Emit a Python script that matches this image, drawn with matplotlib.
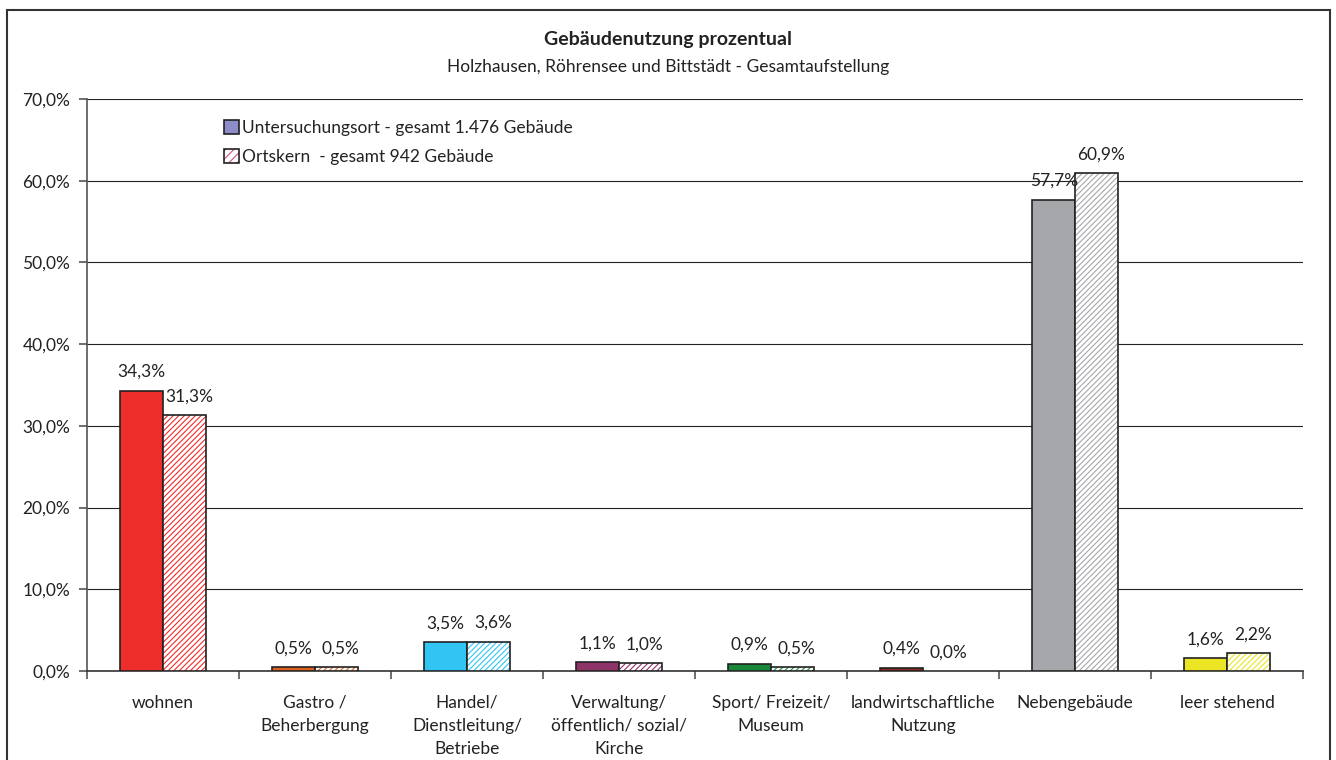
import matplotlib.pyplot as plt
import matplotlib as mpl
from matplotlib.patches import Rectangle, Patch
from matplotlib.legend_handler import HandlerTuple
import numpy as np

plt.rcParams['font.family'] = ['Lato', 'DejaVu Sans']
mpl.rcParams['hatch.linewidth'] = 0.8

categories = ['wohnen', 'Gastro /\nBeherbergung', 'Handel/\nDienstleitung/\nBetriebe',
              'Verwaltung/\nöffentlich/ sozial/\nKirche', 'Sport/ Freizeit/\nMuseum',
              'landwirtschaftliche\nNutzung', 'Nebengebäude', 'leer stehend']
gesamt = [34.3, 0.5, 3.5, 1.1, 0.9, 0.4, 57.7, 1.6]
ortskern = [31.3, 0.5, 3.6, 1.0, 0.5, 0.0, 60.9, 2.2]
colors = ['#EE2E2B', '#E0601E', '#31C5F4', '#8E3468', '#1A8A3A', '#8B2E1E', '#A6A7AB', '#EBE524']
yticks = [0, 10, 20, 30, 40, 50, 60, 70]

fig = plt.figure(figsize=(13.36, 7.60), dpi=100)
ax = fig.add_axes([87 / 1336, 1 - 671 / 760, (1303 - 87) / 1336, (671 - 99) / 760])

x = np.arange(len(categories))
w = 0.28
ax.bar(x - w / 2, gesamt, w, color=colors, edgecolor='#222222', linewidth=1.2, zorder=3)
for xi, v, c in zip(x, ortskern, colors):
    if v > 0:
        ax.bar(xi + w / 2, v, w, color='white', edgecolor=c, hatch='//////', linewidth=0, zorder=3)
        ax.bar(xi + w / 2, v, w, fill=False, edgecolor='#222222', linewidth=1.2, zorder=4)

fs = 12.5
for xi, v in zip(x, gesamt):
    ax.text(xi - w / 2, v + 1.3, f'{v:.1f}%'.replace('.', ','), ha='center', va='bottom',
            fontsize=fs, color='#222222')
for xi, v in zip(x, ortskern):
    ax.text(xi + w / 2 + 0.03, v + 1.3, f'{v:.1f}%'.replace('.', ','), ha='center', va='bottom',
            fontsize=fs, color='#222222')

ax.set_xlim(-0.5, len(categories) - 0.5)
ax.set_ylim(0, 70)
ax.set_yticks(yticks)
ax.set_yticklabels([f'{t:.1f}%'.replace('.', ',') for t in yticks], fontsize=fs, color='#222222')
ax.yaxis.grid(True, color='#222222', linewidth=0.8, zorder=0)
ax.tick_params(axis='y', length=6, color='#555555', width=1.2, pad=6)

ax.set_xticks(np.arange(len(categories) + 1) - 0.5, minor=False)
ax.set_xticklabels([])
ax.set_xticks(x, minor=True)
ax.set_xticklabels(categories, minor=True, fontsize=fs, color='#222222', linespacing=1.55)
ax.tick_params(axis='x', which='major', length=6, color='#555555', width=1.2)
ax.tick_params(axis='x', which='minor', length=0, pad=17)

for s in ['top', 'right']:
    ax.spines[s].set_visible(False)
ax.spines['left'].set_color('#555555')
ax.spines['left'].set_linewidth(1.2)
ax.spines['bottom'].set_color('#333333')
ax.spines['bottom'].set_linewidth(1.2)

fig.text(0.5, 1 - 40 / 760, 'Gebäudenutzung prozentual', ha='center', va='center',
         fontsize=14, fontweight='bold', color='#222222')
fig.text(0.5, 1 - 67 / 760, 'Holzhausen, Röhrensee und Bittstädt - Gesamtaufstellung', ha='center',
         va='center', fontsize=fs, color='#222222')

h1 = Patch(facecolor='#8C8CC8', edgecolor='#222222', linewidth=1.2)
h2 = (Patch(facecolor='white', edgecolor='#D0508A', hatch='////', linewidth=0),
      Patch(fill=False, edgecolor='#222222', linewidth=1.2))
leg = ax.legend([h1, h2], ['Untersuchungsort - gesamt 1.476 Gebäude', 'Ortskern  - gesamt 942 Gebäude'],
                handler_map={tuple: HandlerTuple(ndivide=1)},
                loc='upper left', bbox_to_anchor=(0.1, 0.99), frameon=False, fontsize=fs,
                handlelength=0.85, handleheight=0.85, handletextpad=0.2, labelspacing=0.75)
for t in leg.get_texts():
    t.set_color('#222222')

fig.patches.append(Rectangle((7 / 1336, -0.02), (1330 - 7) / 1336, 1 - 10 / 760 + 0.02,
                             transform=fig.transFigure, fill=False, edgecolor='#333333', linewidth=1.5))

fig.savefig('out.png', dpi=100)
